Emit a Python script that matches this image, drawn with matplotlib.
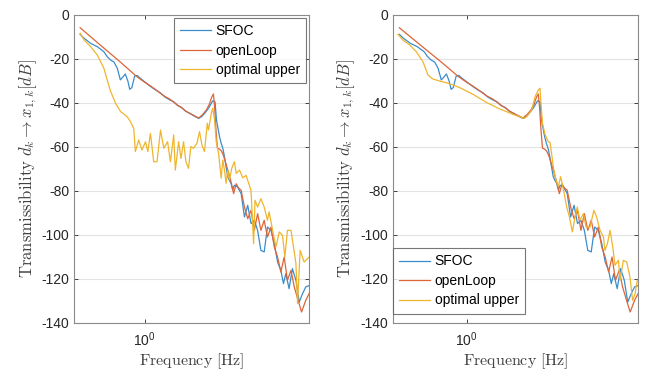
import numpy as np
import matplotlib
matplotlib.use("Agg")
import matplotlib.pyplot as plt

plt.rcParams['font.family'] = ['Liberation Sans', 'DejaVu Sans']
plt.rcParams['axes.unicode_minus'] = False
plt.rcParams['mathtext.fontset'] = 'custom'
plt.rcParams['mathtext.rm'] = 'Liberation Sans'
plt.rcParams['mathtext.it'] = 'Liberation Sans:italic'

# log10(frequency in Hz) and magnitude in dB
logf_sfoc = [-0.275, -0.258, -0.230, -0.202, -0.174, -0.160, -0.145, -0.131, -0.117, -0.104,
             -0.093, -0.083, -0.072, -0.064, -0.055, -0.043, -0.032, -0.021, 0.000, 0.021,
             0.042, 0.064, 0.085, 0.106, 0.123, 0.140, 0.157, 0.174, 0.191, 0.208,
             0.229, 0.242, 0.254, 0.267, 0.275, 0.289, 0.299, 0.305, 0.318, 0.325,
             0.333, 0.339, 0.353, 0.360, 0.367, 0.374, 0.381, 0.395, 0.410, 0.424,
             0.438, 0.452, 0.466, 0.480, 0.494, 0.508, 0.522, 0.537, 0.551, 0.565,
             0.579, 0.590, 0.600, 0.614, 0.628, 0.643, 0.657, 0.671, 0.685, 0.699]
db_sfoc = [-8.8, -10.6, -12.9, -14.4, -16.7, -18.9, -20.5, -21.4, -24.2, -29.5,
           -28.2, -26.8, -30.0, -33.8, -33.0, -27.7, -27.5, -28.6, -30.4, -32.2,
           -33.8, -35.2, -37.2, -38.6, -39.4, -41.2, -42.0, -43.8, -44.6, -45.8,
           -47.0, -46.2, -44.8, -43.0, -41.7, -39.0, -39.5, -47.7, -55.3, -58.3,
           -61.0, -64.5, -73.5, -75.2, -76.5, -79.5, -77.4, -78.2, -81.2, -91.8,
           -86.5, -94.8, -93.3, -97.9, -107.0, -107.7, -96.4, -97.9, -103.9, -112.3,
           -116.1, -122.1, -117.6, -124.4, -115.3, -120.6, -130.5, -126.7, -123.6, -123.0]

logf_open = [-0.275, -0.191, -0.106, -0.034, 0.000, 0.021, 0.042, 0.064, 0.085, 0.106,
             0.123, 0.140, 0.157, 0.174, 0.191, 0.208, 0.229, 0.246, 0.263, 0.275,
             0.284, 0.292, 0.297, 0.303, 0.309, 0.318, 0.326, 0.335, 0.345, 0.356,
             0.367, 0.378, 0.389, 0.398, 0.410, 0.417, 0.424, 0.438, 0.452, 0.466,
             0.480, 0.494, 0.508, 0.522, 0.537, 0.551, 0.565, 0.579, 0.593, 0.607,
             0.622, 0.636, 0.650, 0.667, 0.685, 0.699]
db_open = [-5.8, -13.5, -21.2, -28.0, -30.6, -32.0, -33.6, -35.4, -37.0, -38.2,
           -39.6, -41.0, -42.2, -43.6, -44.8, -45.6, -46.8, -45.3, -43.0, -40.5,
           -37.5, -35.9, -41.7, -52.3, -60.5, -61.0, -61.8, -64.0, -67.5, -71.5,
           -75.9, -81.2, -76.7, -78.5, -79.7, -83.5, -87.3, -92.6, -88.8, -97.9,
           -90.3, -97.9, -93.3, -100.9, -96.4, -105.5, -110.0, -116.8, -110.0, -120.6,
           -116.1, -123.6, -128.9, -135.0, -129.7, -126.7]

logf_opt_a = [-0.275, -0.258, -0.230, -0.202, -0.174, -0.160, -0.145, -0.124, -0.103, -0.075,
              -0.061, -0.047, -0.040, -0.026, -0.012, 0.003, 0.013, 0.024, 0.038, 0.052,
              0.067, 0.081, 0.097, 0.109, 0.123, 0.130, 0.144, 0.154, 0.165, 0.175,
              0.186, 0.196, 0.207, 0.222, 0.233, 0.243, 0.254, 0.266, 0.271, 0.283,
              0.289, 0.297, 0.304, 0.314, 0.325, 0.332, 0.339, 0.346, 0.353, 0.360,
              0.370, 0.381, 0.389, 0.403, 0.417, 0.431, 0.438, 0.452, 0.463, 0.469,
              0.480, 0.494, 0.508, 0.522, 0.529, 0.544, 0.558, 0.572, 0.586, 0.596,
              0.607, 0.622, 0.636, 0.643, 0.650, 0.661, 0.678, 0.692, 0.699]
db_opt_a = [-8.3, -11.4, -14.4, -18.2, -24.2, -29.5, -34.8, -40.2, -43.9, -46.2,
            -48.5, -51.5, -62.1, -56.8, -61.4, -57.6, -62.1, -53.8, -66.7, -66.7,
            -52.3, -60.6, -57.6, -66.7, -54.5, -70.5, -57.6, -65.2, -57.6, -66.7,
            -69.7, -59.8, -60.6, -58.3, -53.0, -59.1, -62.1, -49.2, -52.3, -44.7,
            -42.4, -47.7, -57.6, -62.9, -74.2, -65.9, -70.5, -76.5, -70.5, -75.0,
            -69.7, -66.7, -72.0, -70.5, -74.0, -72.9, -75.2, -79.7, -104.0, -84.2,
            -87.3, -83.5, -87.3, -93.3, -89.5, -97.9, -105.5, -98.6, -100.2, -110.0,
            -97.9, -97.9, -107.7, -113.0, -131.2, -107.0, -112.3, -110.8, -110.0]

logf_opt_b = [-0.281, -0.260, -0.233, -0.206, -0.179, -0.158, -0.138, -0.111, -0.083, -0.056,
              -0.029, -0.002, 0.026, 0.053, 0.080, 0.107, 0.134, 0.162, 0.189, 0.216,
              0.234, 0.245, 0.265, 0.279, 0.292, 0.299, 0.303, 0.309, 0.320, 0.333,
              0.340, 0.347, 0.353, 0.364, 0.374, 0.383, 0.394, 0.408, 0.419, 0.431,
              0.442, 0.451, 0.462, 0.476, 0.487, 0.503, 0.519, 0.530, 0.544, 0.558,
              0.564, 0.574, 0.585, 0.596, 0.605, 0.619, 0.626, 0.639, 0.653, 0.666,
              0.677, 0.687, 0.696]
db_opt_b = [-8.8, -11.4, -13.6, -16.7, -21.2, -27.3, -29.1, -30.0, -30.8, -31.8,
            -33.0, -34.5, -36.1, -37.9, -39.7, -41.2, -42.7, -43.9, -45.2, -46.2,
            -47.0, -46.2, -43.2, -37.1, -34.1, -33.3, -40.2, -49.2, -54.5, -57.6,
            -58.0, -63.6, -68.9, -75.0, -78.0, -73.5, -79.0, -87.3, -91.8, -98.6,
            -91.8, -87.3, -93.3, -90.3, -96.4, -96.4, -88.8, -91.8, -97.9, -100.9,
            -107.0, -104.0, -97.9, -105.5, -113.8, -111.5, -120.6, -111.5, -112.3, -119.1,
            -129.7, -126.7, -120.6]

labels = ['SFOC', 'openLoop', 'optimal upper']
colors = ['#3a8dcc', '#dd6538', '#efb52c']

fig = plt.figure(figsize=(6.47, 3.75), dpi=100)
ax_a = fig.add_axes([0.1144, 0.1387, 0.3633, 0.8213])
ax_b = fig.add_axes([0.6074, 0.1387, 0.3787, 0.8213])

panels = [(ax_a, logf_opt_a, db_opt_a, 'upper right', (1.0, 1.0), 0.2),
          (ax_b, logf_opt_b, db_opt_b, 'lower left', (0.0, 0.03), 0.0)]

for ax, lf_opt, db_opt, loc, anchor, pad in panels:
    series = [(logf_sfoc, db_sfoc), (logf_open, db_open), (lf_opt, db_opt)]
    for (lf, db), lab, c in zip(series, labels, colors):
        ax.plot(10 ** np.array(lf), db, color=c, lw=0.9, label=lab)
    ax.set_xscale('log')
    ax.set_xlim(0.5, 5.0)
    ax.set_ylim(-140, 0)
    ax.set_yticks(np.arange(-140, 1, 20))
    ax.set_xticks([1.0])
    ax.set_xticklabels([r'$10^{0}$'])
    ax.xaxis.set_minor_locator(matplotlib.ticker.NullLocator())
    ax.grid(axis='y', color='#e3e3e3', lw=0.8)
    ax.set_axisbelow(True)
    ax.tick_params(direction='in', length=3, width=0.6, colors='#262626',
                   labelsize=10, top=True, right=True, labelcolor='#262626')
    ax.tick_params(axis='x', pad=5)
    for sp in ax.spines.values():
        sp.set_color('#8a8a8a')
        sp.set_linewidth(0.8)
    ax.set_xlabel(r'$\mathrm{Frequency\ [Hz]}$', fontsize=11.5, color='#404040',
                  math_fontfamily='cm', labelpad=2)
    ax.set_ylabel(r'$\mathrm{Transmissibility}\ d_k \rightarrow x_{1,k}[dB]$',
                  fontsize=12, color='#404040', math_fontfamily='cm', labelpad=2)
    leg = ax.legend(loc=loc, bbox_to_anchor=anchor, fontsize=10, frameon=True,
                    fancybox=False, borderaxespad=pad, handlelength=2.2,
                    handletextpad=0.35, borderpad=0.45, labelspacing=0.4)
    leg.get_frame().set_edgecolor('#555555')
    leg.get_frame().set_linewidth(0.8)

fig.savefig('out.png', dpi=100)
